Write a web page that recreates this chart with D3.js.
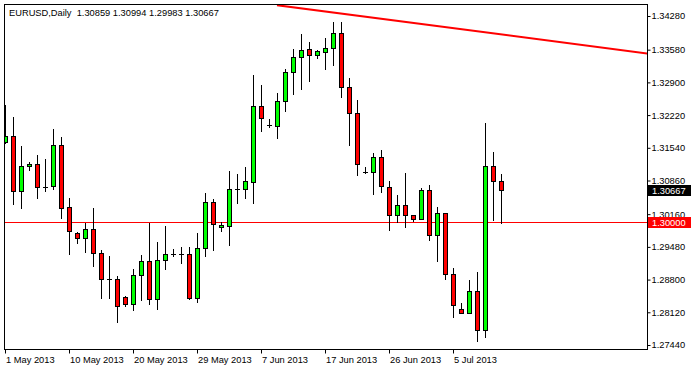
<!DOCTYPE html>
<html>
<head>
<meta charset="utf-8">
<script src="https://cdn.jsdelivr.net/npm/d3@7"></script>
<style>
  html, body { margin: 0; padding: 0; background: #ffffff; }
  svg { display: block; }
  text { font-family: "Liberation Sans", Arial, sans-serif; font-size: 9.3px; fill: #000; }
</style>
</head>
<body>
<div id="chart"></div>
<script>
// ---------------- DATA ----------------
const symbol = "EURUSD";
const period = "Daily";

const dates = [
  "2013-05-01","2013-05-02","2013-05-03","2013-05-05","2013-05-06","2013-05-07","2013-05-08","2013-05-09","2013-05-10",
  "2013-05-12","2013-05-13","2013-05-14","2013-05-15","2013-05-16","2013-05-17",
  "2013-05-19","2013-05-20","2013-05-21","2013-05-22","2013-05-23","2013-05-24",
  "2013-05-26","2013-05-27","2013-05-28","2013-05-29","2013-05-30","2013-05-31",
  "2013-06-02","2013-06-03","2013-06-04","2013-06-05","2013-06-06","2013-06-07",
  "2013-06-09","2013-06-10","2013-06-11","2013-06-12","2013-06-13","2013-06-14",
  "2013-06-16","2013-06-17","2013-06-18","2013-06-19","2013-06-20","2013-06-21",
  "2013-06-23","2013-06-24","2013-06-25","2013-06-26","2013-06-27","2013-06-28",
  "2013-06-30","2013-07-01","2013-07-02","2013-07-03","2013-07-04","2013-07-05",
  "2013-07-07","2013-07-08","2013-07-09","2013-07-10","2013-07-11","2013-07-12"
];

const openP = [
  1.31660,1.31779,1.30636,1.31155,1.31197,1.30735,1.30740,1.31592,1.30303,
  1.29762,1.29658,1.29845,1.29347,1.28812,1.28806,1.28432,1.28286,1.28889,
  1.29186,1.28390,1.29207,1.29338,1.29326,1.29326,1.28411,1.29451,1.30407,
  1.29887,1.29920,1.30683,1.30690,1.30835,1.32409,1.32008,1.31999,1.32507,
  1.33110,1.33421,1.33588,1.33463,1.33525,1.33609,1.33920,1.32798,1.32257,
  1.31043,1.31047,1.31345,1.30735,1.30137,1.30345,1.30137,1.30053,1.30656,
  1.29721,1.30180,1.28910,1.28182,1.28099,1.28573,1.27746,1.31155,1.30859
];
const highP = [
  1.32430,1.32180,1.31577,1.31238,1.31390,1.31307,1.31937,1.31758,1.30490,
  1.29789,1.29970,1.30282,1.29415,1.29290,1.28875,1.28459,1.29020,1.29311,
  1.29983,1.29575,1.29914,1.29430,1.29471,1.29471,1.29775,1.30594,1.30475,
  1.29997,1.31058,1.30989,1.31141,1.33060,1.32852,1.32139,1.32685,1.33172,
  1.33594,1.33906,1.33739,1.33567,1.33816,1.34149,1.34149,1.32985,1.32534,
  1.31135,1.31438,1.31494,1.30860,1.30559,1.31010,1.30140,1.30704,1.30767,
  1.30303,1.30190,1.29037,1.28307,1.28787,1.28952,1.32062,1.31453,1.30994
];
const lowP = [
  1.31640,1.30365,1.30295,1.31085,1.30503,1.30648,1.30690,1.30080,1.29326,
  1.29567,1.29380,1.29089,1.28411,1.28424,1.27925,1.28245,1.28162,1.28382,
  1.28299,1.28182,1.29014,1.29290,1.29139,1.28390,1.28340,1.29297,1.29415,
  1.29820,1.29519,1.30399,1.30503,1.30399,1.31889,1.31972,1.31750,1.32311,
  1.32652,1.32769,1.32935,1.33413,1.33172,1.33255,1.32602,1.31592,1.30974,
  1.31010,1.30573,1.30627,1.29837,1.29997,1.29887,1.30024,1.30050,1.29617,
  1.29193,1.28802,1.28028,1.28095,1.28095,1.27530,1.27613,1.30033,1.29983
];
const closeP = [
  1.31785,1.30636,1.31162,1.31197,1.30719,1.30735,1.31592,1.30295,1.29820,
  1.29658,1.29845,1.29347,1.28806,1.28812,1.28245,1.28286,1.28889,1.29186,
  1.28390,1.29207,1.29326,1.29338,1.29326,1.28411,1.29451,1.30407,1.29949,
  1.29929,1.30677,1.30683,1.30843,1.32409,1.32166,1.32008,1.32513,1.33110,
  1.33421,1.33567,1.33463,1.33546,1.33609,1.33920,1.32798,1.32257,1.31209,
  1.31043,1.31345,1.30746,1.30137,1.30345,1.30137,1.30053,1.30656,1.29721,
  1.30184,1.28910,1.28266,1.28099,1.28573,1.27746,1.31155,1.30859,1.30667
];

const xTickIndex  = [0, 8, 16, 24, 32, 40, 48, 56];
const xTickLabels = ["1 May 2013","10 May 2013","20 May 2013","29 May 2013","7 Jun 2013","17 Jun 2013","26 Jun 2013","5 Jul 2013"];
const yTickValues = [1.34280,1.33580,1.32900,1.32220,1.31540,1.30860,1.30160,1.29480,1.28800,1.28120,1.27440];

const levelPrice = 1.30000;            // horizontal support line
const trendIndex = [34, 81];           // trend line anchors (bar index)
const trendPrice = [1.34505, 1.33486]; // trend line anchors (price)

// ---------------- LAYOUT ----------------
const W = 691, H = 369;
const plot = { left: 4, top: 4, right: 647, bottom: 349 };

const svg = d3.select("#chart").append("svg")
  .attr("width", W).attr("height", H);

svg.append("rect").attr("width", W).attr("height", H).attr("fill", "#ffffff");

const x = d3.scaleLinear().domain([0, 80]).range([5, 645]);
const y = d3.scaleLinear().domain([1.2744, 1.3428]).range([345, 16]);
const fmt5 = d3.format(".5f");

svg.append("clipPath").attr("id", "plotclip")
  .append("rect")
  .attr("x", plot.left + 1).attr("y", plot.top + 1)
  .attr("width", plot.right - plot.left - 1)
  .attr("height", plot.bottom - plot.top - 1);

const g = svg.append("g").attr("clip-path", "url(#plotclip)");

// support line
const ly = Math.round(y(levelPrice)) + 0.5;
g.append("line")
  .attr("x1", plot.left).attr("x2", plot.right)
  .attr("y1", ly).attr("y2", ly)
  .attr("stroke", "#ff0000").attr("stroke-width", 1);

// trend line
g.append("line")
  .attr("x1", x(trendIndex[0])).attr("y1", y(trendPrice[0]))
  .attr("x2", x(trendIndex[1])).attr("y2", y(trendPrice[1]))
  .attr("stroke", "#ff0000").attr("stroke-width", 2);

// candles
const bars = dates.map((d, i) => ({ d, i, o: openP[i], h: highP[i], l: lowP[i], c: closeP[i] }));
const cg = g.selectAll("g.candle").data(bars).join("g").attr("class", "candle");

cg.append("line")
  .attr("x1", d => Math.round(x(d.i)) + 0.5)
  .attr("x2", d => Math.round(x(d.i)) + 0.5)
  .attr("y1", d => Math.round(y(d.h)))
  .attr("y2", d => Math.round(y(d.l)) + 1)
  .attr("stroke", "#000").attr("stroke-width", 1);

cg.each(function(d) {
  const sel = d3.select(this);
  const cx = Math.round(x(d.i)) + 0.5;
  const yo = Math.round(y(d.o)), yc = Math.round(y(d.c));
  if (yo === yc) {
    sel.append("line")
      .attr("x1", cx - 2.5).attr("x2", cx + 2.5)
      .attr("y1", yo + 0.5).attr("y2", yo + 0.5)
      .attr("stroke", "#000").attr("stroke-width", 1);
  } else {
    const top = Math.min(yo, yc), bot = Math.max(yo, yc);
    sel.append("rect")
      .attr("x", cx - 2).attr("y", top + 0.5)
      .attr("width", 4).attr("height", bot - top)
      .attr("fill", d.c > d.o ? "#00ff00" : "#ff0000")
      .attr("stroke", "#000").attr("stroke-width", 1);
  }
});

// frame
svg.append("rect")
  .attr("x", plot.left + 0.5).attr("y", plot.top + 0.5)
  .attr("width", plot.right - plot.left).attr("height", plot.bottom - plot.top)
  .attr("fill", "none").attr("stroke", "#000").attr("stroke-width", 1);

// y axis
const yAxis = svg.append("g")
  .attr("transform", `translate(${plot.right + 0.5},0)`)
  .call(d3.axisRight(y).tickValues(yTickValues).tickFormat(fmt5).tickSize(3).tickPadding(1));
yAxis.select(".domain").remove();
yAxis.selectAll("line").attr("stroke", "#000");
yAxis.selectAll("text").attr("font-family", null).attr("font-size", null).attr("fill", "#000");

// x axis
const xAxis = svg.append("g")
  .attr("transform", `translate(0,${plot.bottom + 0.5})`)
  .call(d3.axisBottom(x).tickValues(xTickIndex).tickFormat((d, i) => xTickLabels[i]).tickSize(4).tickPadding(3));
xAxis.select(".domain").remove();
xAxis.selectAll("line").attr("stroke", "#000");
xAxis.selectAll("text").attr("text-anchor", "start").attr("x", 0.5)
  .attr("font-family", null).attr("font-size", null).attr("fill", "#000");

// price labels on the right
function priceTag(price, bg) {
  const cy = Math.round(y(price));
  svg.append("rect")
    .attr("x", plot.right + 1).attr("y", cy - 5)
    .attr("width", W - plot.right - 1).attr("height", 11)
    .attr("fill", bg);
  svg.append("text")
    .attr("x", plot.right + 5).attr("y", cy + 3.5)
    .style("fill", "#ffffff")
    .text(fmt5(price));
}
priceTag(closeP[closeP.length - 1], "#000000");
priceTag(levelPrice, "#ff0000");

// title
const n = closeP.length - 1;
svg.append("text")
  .attr("x", 9).attr("y", 16)
  .style("white-space", "pre")
  .text(`${symbol},${period}  ${fmt5(openP[n])} ${fmt5(highP[n])} ${fmt5(lowP[n])} ${fmt5(closeP[n])}`);
</script>
</body>
</html>
